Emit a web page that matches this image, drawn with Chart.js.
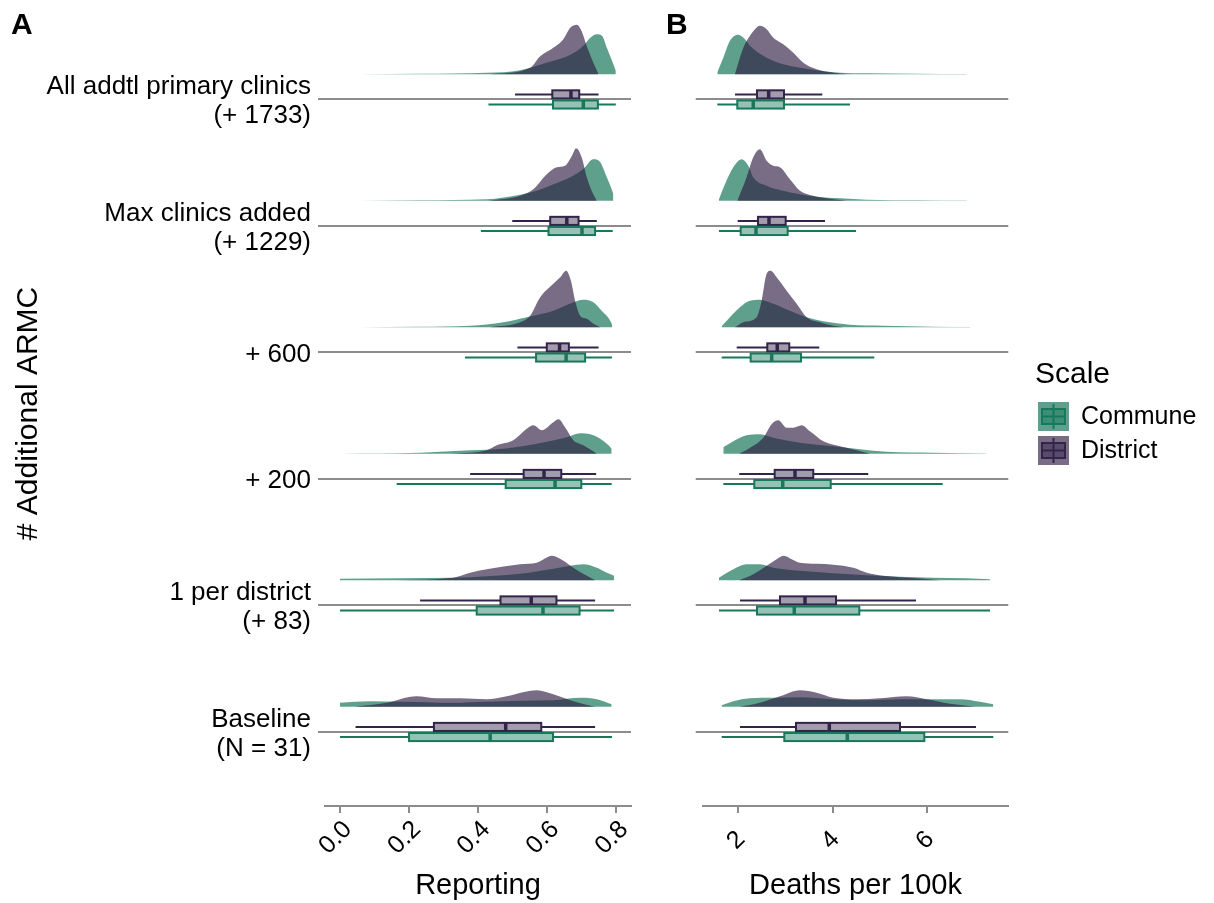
<!DOCTYPE html>
<html>
<head>
<meta charset="utf-8">
<script src="https://cdn.jsdelivr.net/npm/chart.js@4.4.1/dist/chart.umd.min.js"></script>
<style>
  body { margin: 0; background: #fff; width: 1214px; height: 903px; position: relative; overflow: hidden; }
  canvas { position: absolute; top: 0; }
  #chartA { left: 0; }
  #chartB { left: 640px; }
</style>
</head>
<body>
<canvas id="chartA" width="640" height="903"></canvas>
<canvas id="chartB" width="574" height="903"></canvas>
<script>
// rows from bottom (Baseline) to top
const rowLabels = [
  ['Baseline', '(N = 31)'],
  ['1 per district', '(+ 83)'],
  ['+ 200'],
  ['+ 600'],
  ['Max clinics added', '(+ 1229)'],
  ['All addtl primary clinics', '(+ 1733)']
];
const scaleNames = ['Commune', 'District'];
const reportingTicks = [0, 0.2, 0.4, 0.6, 0.8];
const deathsTicks = [2, 4, 6];

// box stats: [lower whisker, q1, median, q3, upper whisker]
const reportingCommuneBox = [
  [0.000, 0.200, 0.435, 0.617, 0.788],
  [0.000, 0.396, 0.588, 0.694, 0.794],
  [0.164, 0.480, 0.623, 0.699, 0.787],
  [0.362, 0.568, 0.655, 0.710, 0.788],
  [0.408, 0.604, 0.701, 0.739, 0.790],
  [0.430, 0.617, 0.705, 0.747, 0.799]
];
const reportingDistrictBox = [
  [0.045, 0.272, 0.480, 0.583, 0.739],
  [0.232, 0.465, 0.554, 0.627, 0.739],
  [0.377, 0.532, 0.591, 0.641, 0.742],
  [0.514, 0.599, 0.636, 0.663, 0.749],
  [0.499, 0.609, 0.657, 0.691, 0.744],
  [0.507, 0.615, 0.669, 0.693, 0.749]
];
const deathsCommuneBox = [
  [1.649, 2.974, 4.307, 5.937, 7.397],
  [1.592, 2.396, 3.185, 4.561, 7.327],
  [1.683, 2.339, 2.940, 3.956, 6.326],
  [1.649, 2.262, 2.707, 3.327, 4.878],
  [1.592, 2.051, 2.375, 3.045, 4.491],
  [1.556, 1.979, 2.317, 2.967, 4.364]
];
const deathsDistrictBox = [
  [2.036, 3.221, 3.926, 5.422, 7.031],
  [2.036, 2.883, 3.412, 4.068, 5.761],
  [2.021, 2.770, 3.200, 3.587, 4.751],
  [1.966, 2.614, 2.825, 3.079, 3.714],
  [1.987, 2.417, 2.650, 3.003, 3.835],
  [1.930, 2.396, 2.643, 2.967, 3.778]
];

// density curves, [value, relative density]
const reportingCommuneDensity = [
  [[0.0,0.08],[0.087,0.11],[0.184,0.10],[0.328,0.08],[0.425,0.10],[0.522,0.12],[0.618,0.13],[0.696,0.18],[0.744,0.15],[0.787,0.05]],
  [[0.0,0.03],[0.164,0.04],[0.328,0.05],[0.425,0.08],[0.522,0.13],[0.618,0.23],[0.667,0.29],[0.705,0.32],[0.744,0.25],[0.773,0.15],[0.794,0.09]],
  [[0.002,0.0],[0.232,0.02],[0.377,0.07],[0.473,0.10],[0.570,0.20],[0.657,0.33],[0.696,0.41],[0.725,0.39],[0.754,0.30],[0.778,0.17],[0.787,0.10]],
  [[0.058,0.0],[0.232,0.01],[0.377,0.03],[0.473,0.10],[0.541,0.20],[0.618,0.33],[0.676,0.50],[0.705,0.55],[0.734,0.50],[0.758,0.33],[0.783,0.13],[0.788,0.05]],
  [[0.058,0.0],[0.232,0.01],[0.425,0.03],[0.522,0.12],[0.570,0.20],[0.618,0.33],[0.667,0.47],[0.710,0.67],[0.725,0.80],[0.736,0.83],[0.754,0.77],[0.773,0.47],[0.787,0.23],[0.792,0.13]],
  [[0.053,0.0],[0.232,0.006],[0.425,0.026],[0.522,0.08],[0.570,0.17],[0.618,0.27],[0.667,0.39],[0.705,0.57],[0.725,0.73],[0.744,0.80],[0.759,0.77],[0.773,0.53],[0.788,0.27],[0.799,0.07]]
];
const reportingDistrictDensity = [
  [[0.043,0],[0.135,0.08],[0.222,0.21],[0.280,0.17],[0.348,0.17],[0.425,0.15],[0.483,0.21],[0.570,0.33],[0.618,0.25],[0.676,0.11],[0.739,0]],
  [[0.164,0],[0.328,0.05],[0.377,0.15],[0.425,0.22],[0.522,0.32],[0.570,0.35],[0.614,0.49],[0.647,0.39],[0.676,0.25],[0.715,0.09],[0.739,0]],
  [[0.324,0],[0.425,0.07],[0.454,0.17],[0.502,0.27],[0.541,0.50],[0.560,0.57],[0.585,0.47],[0.618,0.63],[0.633,0.69],[0.652,0.53],[0.676,0.27],[0.705,0.17],[0.729,0.07],[0.744,0]],
  [[0.435,0],[0.522,0.10],[0.551,0.23],[0.580,0.60],[0.618,0.87],[0.638,1.0],[0.655,1.13],[0.669,0.93],[0.681,0.53],[0.696,0.23],[0.715,0.17],[0.734,0.07],[0.754,0]],
  [[0.430,0],[0.522,0.10],[0.560,0.23],[0.599,0.53],[0.628,0.67],[0.652,0.70],[0.672,0.90],[0.684,1.05],[0.700,0.87],[0.715,0.47],[0.729,0.20],[0.744,0]],
  [[0.435,0],[0.551,0.13],[0.580,0.36],[0.618,0.53],[0.647,0.70],[0.667,0.93],[0.686,0.99],[0.700,0.86],[0.715,0.56],[0.734,0.23],[0.749,0]]
];
const deathsCommuneDensity = [
  [[1.647,0.03],[1.894,0.11],[2.247,0.17],[2.741,0.18],[3.305,0.19],[4.011,0.15],[4.716,0.13],[5.422,0.15],[6.127,0.15],[6.691,0.15],[7.115,0.10],[7.397,0.05]],
  [[1.591,0.05],[1.894,0.22],[2.176,0.32],[2.459,0.32],[2.741,0.25],[3.305,0.19],[4.011,0.14],[4.716,0.10],[5.422,0.07],[6.127,0.05],[6.832,0.04],[7.326,0.02]],
  [[1.683,0.13],[1.894,0.25],[2.176,0.37],[2.459,0.39],[2.741,0.32],[3.305,0.22],[4.011,0.15],[4.575,0.09],[5.139,0.04],[6.127,0.02],[7.256,0.005]],
  [[1.647,0.02],[1.824,0.20],[2.035,0.40],[2.247,0.53],[2.459,0.55],[2.741,0.47],[3.093,0.33],[3.446,0.20],[3.799,0.12],[4.363,0.05],[5.069,0.03],[6.127,0.01],[6.903,0.003]],
  [[1.591,0.03],[1.718,0.33],[1.894,0.67],[2.071,0.83],[2.212,0.70],[2.317,0.47],[2.600,0.30],[2.952,0.20],[3.305,0.13],[3.658,0.08],[4.152,0.05],[4.716,0.02],[5.774,0.01],[6.832,0.003]],
  [[1.556,0.04],[1.683,0.33],[1.824,0.67],[2.0,0.79],[2.141,0.70],[2.247,0.57],[2.600,0.33],[2.952,0.20],[3.305,0.13],[3.658,0.08],[4.152,0.03],[4.716,0.02],[5.774,0.01],[6.832,0.003]]
];
const deathsDistrictDensity = [
  [[2.035,0],[2.459,0.08],[2.882,0.21],[3.305,0.33],[3.658,0.28],[4.011,0.18],[4.504,0.15],[5.0,0.17],[5.563,0.21],[5.986,0.15],[6.480,0.06],[7.009,0]],
  [[2.021,0],[2.317,0.12],[2.600,0.29],[2.811,0.42],[2.966,0.49],[3.129,0.42],[3.305,0.35],[3.658,0.33],[4.011,0.31],[4.434,0.25],[4.716,0.15],[5.069,0.09],[5.774,0.04],[6.268,0]],
  [[2.021,0],[2.247,0.12],[2.529,0.32],[2.705,0.59],[2.847,0.67],[3.023,0.52],[3.164,0.52],[3.340,0.57],[3.517,0.45],[3.799,0.25],[4.152,0.15],[4.504,0.07],[4.787,0]],
  [[1.929,0],[2.106,0.10],[2.388,0.20],[2.494,0.53],[2.600,1.07],[2.684,1.13],[2.811,1.0],[3.023,0.73],[3.235,0.47],[3.446,0.20],[3.728,0.10],[4.011,0.03],[4.222,0]],
  [[1.979,0],[2.176,0.47],[2.317,0.87],[2.459,1.03],[2.600,0.80],[2.741,0.70],[2.882,0.67],[3.093,0.43],[3.305,0.20],[3.587,0.10],[4.011,0.03],[4.293,0]],
  [[1.929,0],[2.106,0.53],[2.247,0.77],[2.353,0.90],[2.459,0.97],[2.600,0.90],[2.741,0.73],[2.952,0.60],[3.164,0.43],[3.376,0.23],[3.658,0.10],[4.011,0.03],[4.293,0]]
];

const FONT = '"Liberation Sans", Arial, sans-serif';
const TEXT = '#000';
const GRAY = '#8c8c8c';
const lineColors = ['#17785a', '#34244a'];           // commune, district
const boxFills = ['rgba(23,120,90,0.45)', 'rgba(52,36,74,0.45)'];
const densityFills = ['rgba(5,107,75,0.64)', 'rgba(44,27,64,0.64)'];

const RIDGE_BASE = 0.2;   // density baseline above the row line
const RIDGE_SCALE = 0.395;
const BOX_SHIFT = 0.04;
const BOX_HALF = 0.032;

Chart.defaults.font.family = FONT;
Chart.defaults.color = TEXT;

function densitySets(rows, color, order) {
  return rows.map((pts, row) => ({
    data: pts.map(([v, d]) => ({ x: v, y: row + RIDGE_BASE + d * RIDGE_SCALE })),
    fill: { value: row + RIDGE_BASE },
    backgroundColor: color,
    borderColor: 'transparent',
    borderWidth: 0,
    pointRadius: 0,
    cubicInterpolationMode: 'monotone',
    order: order
  }));
}

function boxLayer(sets) {
  return {
    id: 'boxLayer',
    afterDatasetsDraw(chart) {
      const { ctx, scales: { x, y } } = chart;
      ctx.save();
      sets.forEach(set => {
        set.stats.forEach((s, row) => {
          const yc = y.getPixelForValue(row + set.shift);
          const h = y.getPixelForValue(row) - y.getPixelForValue(row + BOX_HALF);
          const [lo, q1, med, q3, hi] = s.map(v => x.getPixelForValue(v));
          ctx.strokeStyle = set.line;
          ctx.lineWidth = 2;
          ctx.beginPath();
          ctx.moveTo(lo, yc); ctx.lineTo(q1, yc);
          ctx.moveTo(q3, yc); ctx.lineTo(hi, yc);
          ctx.stroke();
          ctx.fillStyle = '#fff';
          ctx.fillRect(q1, yc - h, q3 - q1, 2 * h);
          ctx.fillStyle = set.fill;
          ctx.fillRect(q1, yc - h, q3 - q1, 2 * h);
          ctx.strokeRect(q1, yc - h, q3 - q1, 2 * h);
          ctx.lineWidth = 3.5;
          ctx.beginPath();
          ctx.moveTo(med, yc - h); ctx.lineTo(med, yc + h);
          ctx.stroke();
        });
      });
      ctx.restore();
    }
  };
}

function tagLayer(tag, tx) {
  return {
    id: 'tagLayer',
    afterDraw(chart) {
      const ctx = chart.ctx;
      ctx.save();
      ctx.fillStyle = TEXT;
      ctx.font = 'bold 30px ' + FONT;
      ctx.textBaseline = 'alphabetic';
      ctx.fillText(tag, tx, 34);
      ctx.restore();
    }
  };
}

const legendLayer = {
  id: 'legendLayer',
  afterDraw(chart) {
    const ctx = chart.ctx;
    ctx.save();
    ctx.fillStyle = TEXT;
    ctx.font = '30px ' + FONT;
    ctx.textBaseline = 'alphabetic';
    ctx.fillText('Scale', 395, 383);
    scaleNames.forEach((name, i) => {
      const kx = 398, ky = 402 + i * 34, kw = 31, kh = 29;
      ctx.fillStyle = densityFills[i];
      ctx.fillRect(kx, ky, kw, kh);
      ctx.strokeStyle = lineColors[i];
      ctx.lineWidth = 2;
      ctx.beginPath();
      ctx.moveTo(kx + kw / 2, ky + 2); ctx.lineTo(kx + kw / 2, ky + kh - 2);
      ctx.stroke();
      ctx.fillStyle = boxFills[i];
      ctx.fillRect(kx + 4, ky + 7, kw - 8, kh - 14);
      ctx.strokeRect(kx + 4, ky + 7, kw - 8, kh - 14);
      ctx.beginPath();
      ctx.moveTo(kx + 4, ky + kh / 2); ctx.lineTo(kx + kw - 4, ky + kh / 2);
      ctx.stroke();
      ctx.fillStyle = TEXT;
      ctx.font = '25px ' + FONT;
      ctx.textBaseline = 'middle';
      ctx.fillText(name, kx + kw + 12, ky + kh / 2 + 1);
    });
    ctx.restore();
  }
};

function makeChart(id, cfg) {
  const rowTicks = rowLabels.map((_, i) => ({ value: i }));
  return new Chart(document.getElementById(id), {
    type: 'line',
    data: {
      datasets: [
        ...densitySets(cfg.district, densityFills[1], 0),
        ...densitySets(cfg.commune, densityFills[0], 1)
      ]
    },
    options: {
      responsive: false,
      animation: false,
      layout: { padding: { top: 21, right: cfg.padRight, bottom: 0, left: 0 } },
      plugins: { legend: { display: false }, tooltip: { enabled: false } },
      scales: {
        x: {
          type: 'linear',
          min: cfg.min,
          max: cfg.max,
          afterBuildTicks: s => { s.ticks = cfg.ticks.map(v => ({ value: v })); },
          afterFit: s => {
            s.height = 97;
            s.paddingLeft = 0; s.paddingRight = 0; s.paddingTop = 0; s.paddingBottom = 0;
          },
          border: { display: true, color: GRAY, width: 2 },
          grid: { drawOnChartArea: false, drawTicks: true, tickLength: 7, color: GRAY, lineWidth: 2 },
          ticks: {
            minRotation: 45,
            maxRotation: 45,
            padding: cfg.tickPad,
            labelOffset: cfg.tickShift,
            font: { size: 25 },
            color: TEXT,
            callback: cfg.fmt
          },
          title: {
            display: true,
            text: cfg.title,
            font: { size: 29 },
            color: TEXT,
            padding: { top: 0, bottom: 0 }
          }
        },
        y: {
          type: 'linear',
          min: -0.585,
          max: 5.62,
          afterBuildTicks: s => { s.ticks = rowTicks.slice(); },
          afterFit: s => {
            s.width = cfg.yWidth;
            s.paddingLeft = 0; s.paddingRight = 0; s.paddingTop = 0; s.paddingBottom = 0;
          },
          border: { display: false },
          grid: { drawOnChartArea: true, drawTicks: true, tickLength: 7, color: GRAY, lineWidth: 2 },
          ticks: {
            display: cfg.showRows,
            padding: 7,
            labelOffset: 2,
            font: { size: 26, lineHeight: 1.11 },
            color: TEXT,
            callback: v => rowLabels[v]
          },
          title: {
            display: cfg.showRows,
            text: '# Additional ARMC',
            font: { size: 30 },
            color: TEXT,
            padding: { top: 11, bottom: 0 }
          }
        }
      }
    },
    plugins: cfg.plugins
  });
}

makeChart('chartA', {
  district: reportingDistrictDensity,
  commune: reportingCommuneDensity,
  min: -0.0435, max: 0.843,
  ticks: reportingTicks,
  fmt: v => Number(v).toFixed(1),
  title: 'Reporting',
  tickPad: 2,
  tickShift: 8,
  padRight: 9,
  yWidth: 325,
  showRows: true,
  plugins: [
    boxLayer([
      { stats: reportingDistrictBox, shift: BOX_SHIFT, line: lineColors[1], fill: boxFills[1] },
      { stats: reportingCommuneBox, shift: -BOX_SHIFT, line: lineColors[0], fill: boxFills[0] }
    ]),
    tagLayer('A', 11)
  ]
});

makeChart('chartB', {
  district: deathsDistrictDensity,
  commune: deathsCommuneDensity,
  min: 1.247, max: 7.714,
  ticks: deathsTicks,
  fmt: v => String(v),
  title: 'Deaths per 100k',
  tickPad: 12,
  tickShift: 3,
  padRight: 205.7,
  yWidth: 62.7,
  showRows: false,
  plugins: [
    boxLayer([
      { stats: deathsDistrictBox, shift: BOX_SHIFT, line: lineColors[1], fill: boxFills[1] },
      { stats: deathsCommuneBox, shift: -BOX_SHIFT, line: lineColors[0], fill: boxFills[0] }
    ]),
    tagLayer('B', 26),
    legendLayer
  ]
});
</script>
</body>
</html>
